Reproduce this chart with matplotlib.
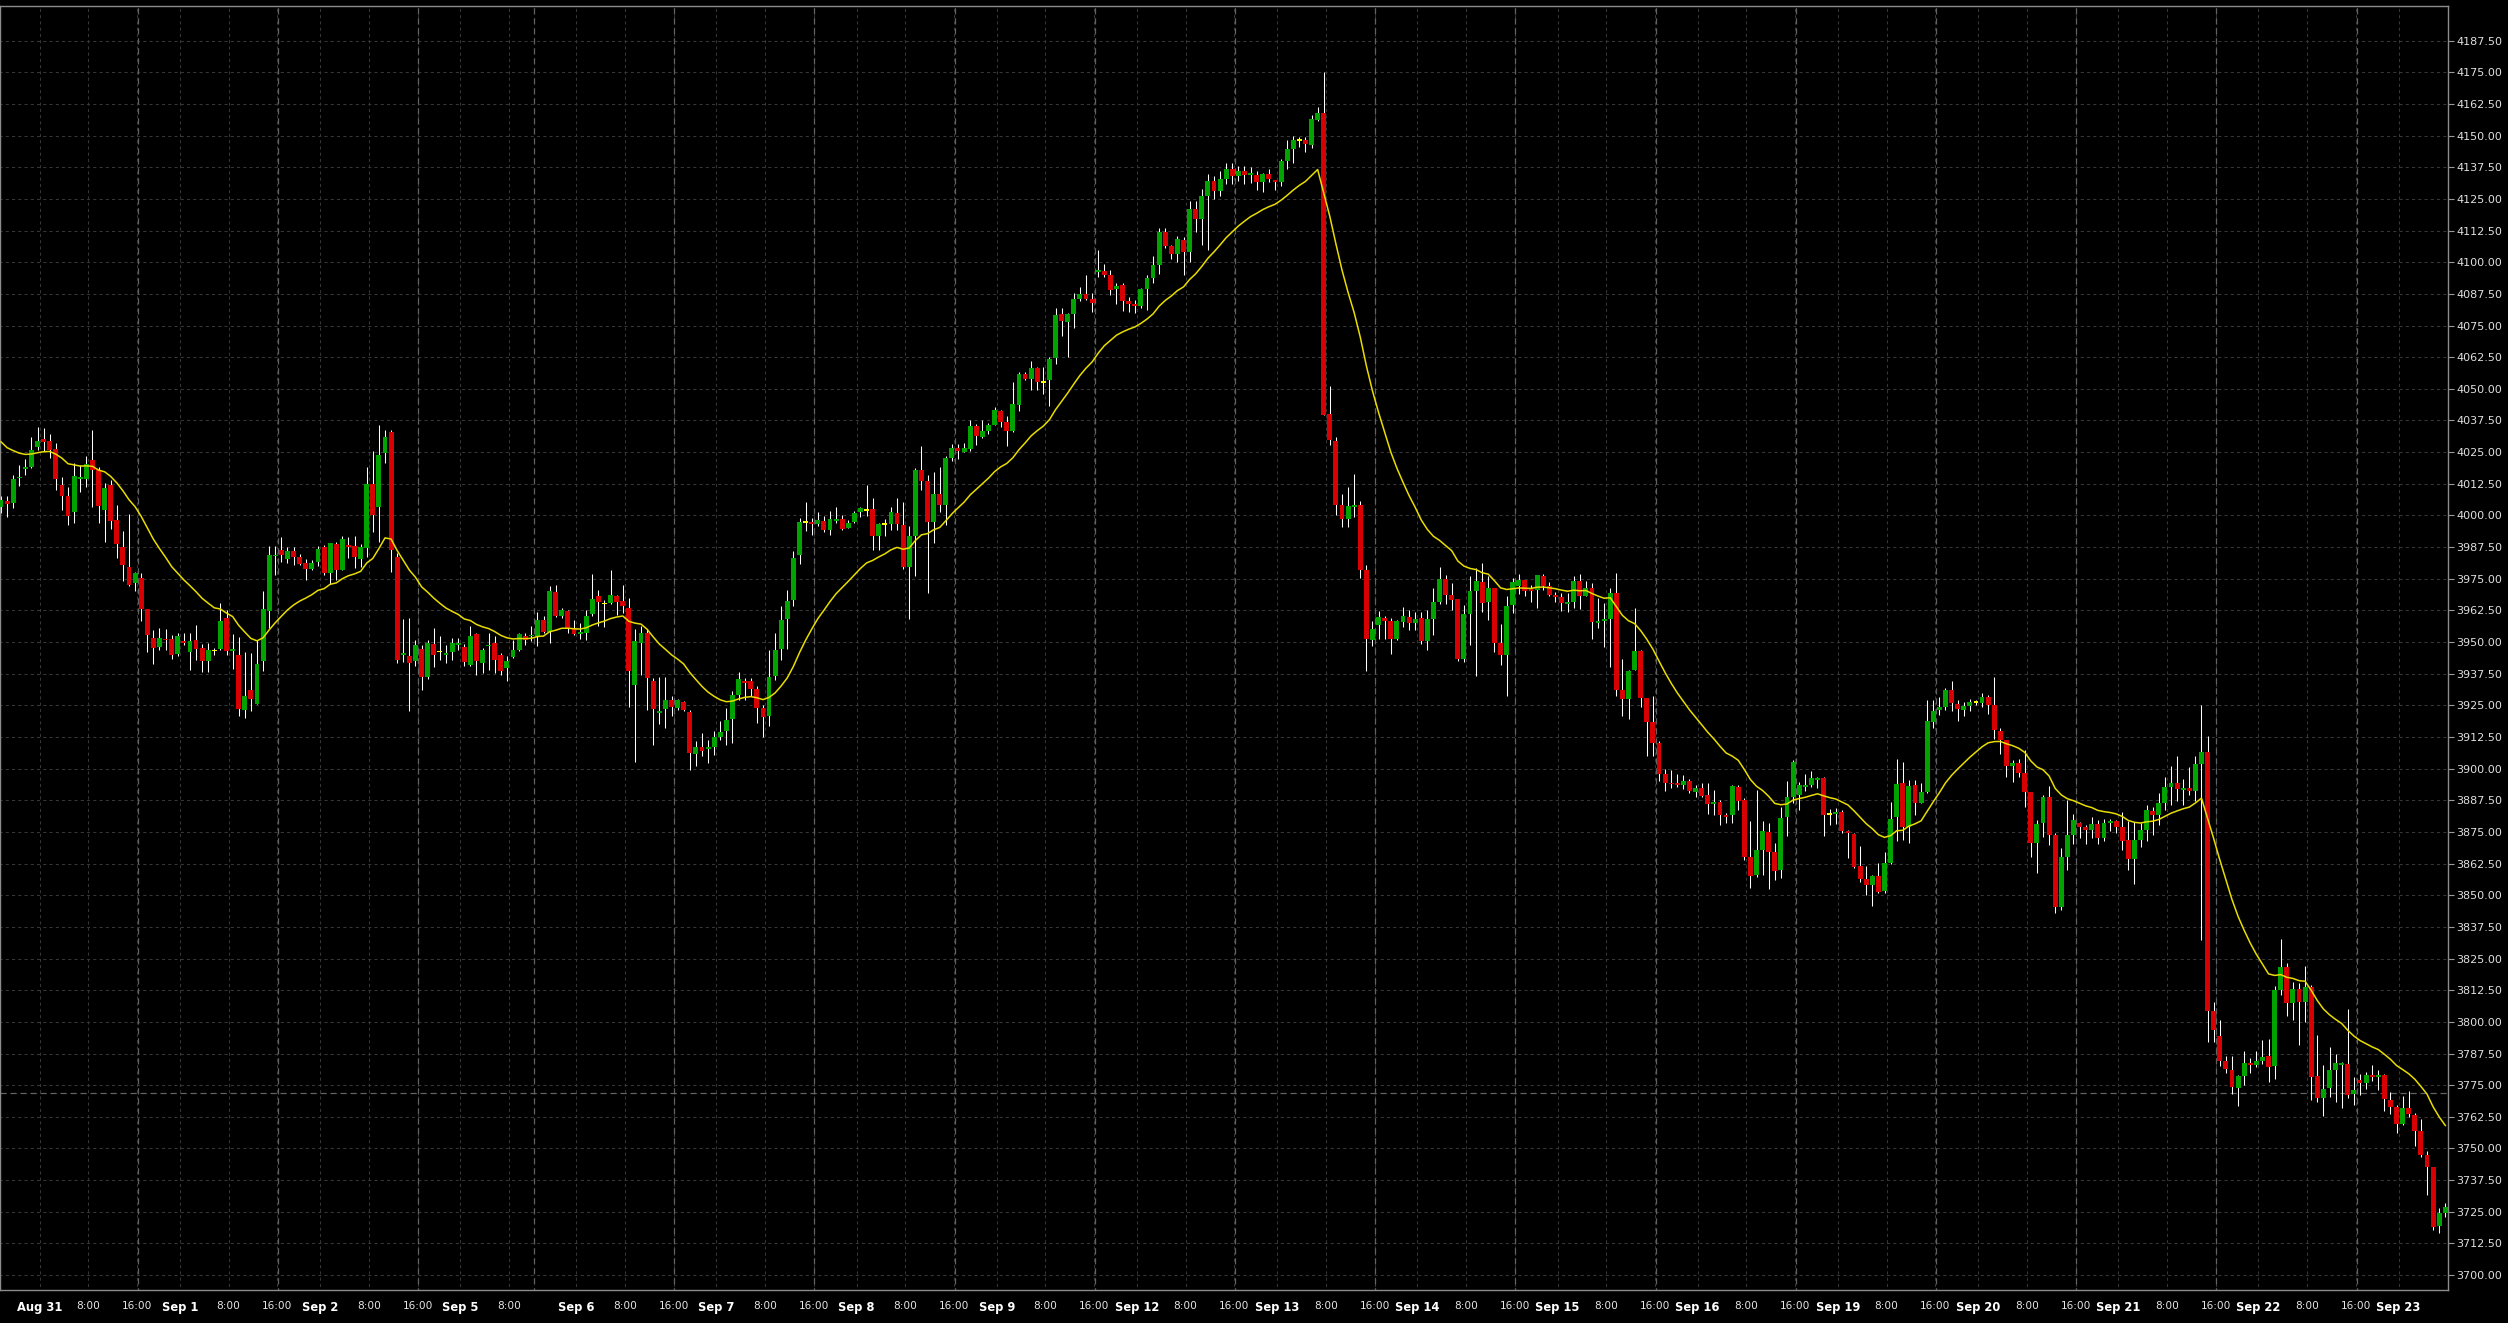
import numpy as np
import pandas as pd
import matplotlib
matplotlib.use("Agg")
import matplotlib.pyplot as plt
from datetime import date

# hourly OHLC bars
opens = [
    4003.2, 4005.8, 4005.1, 4014.6, 4018.2, 4019.3, 4027.2, 4030.3, 4029.5, 4026.3,
    4012.1, 4007.8, 4001.2, 4014.2, 4014.2, 4022.0, 4017.8, 4002.0, 4012.1, 3998.3,
    3987.6, 3979.7, 3973.3, 3975.4, 3963.2, 3951.7, 3947.9, 3951.3, 3951.3, 3945.1,
    3950.3, 3945.9, 3950.9, 3947.8, 3942.6, 3946.3, 3947.1, 3959.6, 3946.4, 3945.0,
    3923.0, 3931.2, 3925.4, 3942.4, 3962.1, 3983.8, 3986.4, 3982.9, 3986.1, 3983.6,
    3981.2, 3978.9, 3981.7, 3987.4, 3977.4, 3988.8, 3978.6, 3988.4, 3988.0, 3982.9,
    3987.0, 4012.6, 4003.2, 4024.6, 4033.0, 3983.7, 3945.0, 3944.6, 3942.4, 3947.2,
    3936.1, 3949.3, 3945.9, 3945.0, 3945.9, 3948.9, 3947.9, 3940.8, 3953.2, 3941.6,
    3948.3, 3949.6, 3944.9, 3939.6, 3943.9, 3946.7, 3952.5, 3952.2, 3952.2, 3958.8,
    3953.9, 3969.9, 3960.1, 3962.4, 3955.5, 3953.2, 3953.4, 3961.0, 3968.3, 3965.0,
    3965.3, 3968.3, 3966.1, 3963.6, 3933.2, 3949.7, 3953.4, 3934.7, 3922.0, 3923.6,
    3927.2, 3924.1, 3926.4, 3922.5, 3905.7, 3908.7, 3907.9, 3908.7, 3912.6, 3915.0,
    3919.7, 3929.2, 3934.6, 3934.7, 3931.6, 3924.1, 3920.7, 3936.7, 3947.2, 3959.2,
    3966.7, 3984.5, 3997.1, 3997.4, 3996.8, 3997.8, 3994.1, 3998.0, 3998.7, 3995.2,
    3997.5, 4001.4, 4001.8, 4002.5, 3991.7, 3996.4, 3996.7, 4000.9, 3996.2, 3979.5,
    3992.0, 4018.0, 4013.7, 3997.5, 4008.5, 4004.2, 4022.8, 4026.7, 4025.1, 4026.4,
    4035.4, 4030.8, 4033.5, 4035.9, 4041.3, 4037.1, 4033.4, 4043.8, 4055.9, 4053.9,
    4058.3, 4052.5, 4053.3, 4062.2, 4079.5, 4076.4, 4079.6, 4085.5, 4087.5, 4085.5,
    4096.3, 4096.4, 4095.1, 4089.6, 4090.9, 4084.7, 4083.7, 4082.9, 4089.5, 4093.8,
    4098.9, 4111.8, 4106.4, 4103.4, 4108.8, 4104.1, 4121.0, 4117.0, 4126.0, 4132.0,
    4128.0, 4133.0, 4137.0, 4134.0, 4136.0, 4134.4, 4134.3, 4131.8, 4134.9, 4132.5,
    4131.8, 4140.1, 4144.9, 4148.0, 4148.3, 4146.3, 4156.2, 4158.9, 4040.1, 4029.4,
    4004.0, 3998.6, 4003.5, 4004.0, 3978.5, 3951.0, 3956.8, 3959.4, 3958.4, 3951.3,
    3958.0, 3959.9, 3957.7, 3959.4, 3950.6, 3959.3, 3966.0, 3974.9, 3968.6, 3967.0,
    3943.4, 3961.1, 3970.2, 3973.8, 3965.9, 3971.5, 3949.8, 3944.9, 3964.7, 3972.2,
    3974.5, 3971.0, 3970.6, 3976.1, 3972.2, 3968.6, 3967.6, 3965.2, 3965.9, 3974.2,
    3968.2, 3971.3, 3957.7, 3958.5, 3959.2, 3969.3, 3930.9, 3927.4, 3938.8, 3946.5,
    3928.1, 3918.6, 3910.3, 3898.0, 3894.2, 3894.2, 3893.6, 3895.1, 3890.9, 3892.5,
    3889.6, 3886.1, 3887.0, 3881.6, 3881.5, 3892.8, 3887.6, 3865.3, 3858.0, 3867.9,
    3875.0, 3867.1, 3860.0, 3880.8, 3889.0, 3889.6, 3892.9, 3893.6, 3895.7, 3896.3,
    3881.7, 3882.1, 3882.9, 3875.4, 3874.1, 3861.6, 3856.5, 3854.1, 3857.6, 3851.8,
    3862.9, 3880.8, 3894.2, 3877.1, 3893.6, 3886.6, 3890.8, 3918.6, 3923.2, 3924.5,
    3931.1, 3925.5, 3923.2, 3924.7, 3926.1, 3926.1, 3928.2, 3925.1, 3914.9, 3911.3,
    3901.1, 3902.1, 3898.2, 3890.9, 3870.8, 3878.7, 3888.9, 3873.8, 3845.5, 3865.3,
    3873.9, 3878.5, 3876.8, 3875.6, 3878.2, 3872.8, 3878.7, 3879.4, 3877.1, 3871.9,
    3864.4, 3871.9, 3875.8, 3883.3, 3881.5, 3886.6, 3892.9, 3894.3, 3891.6, 3892.4,
    3891.0, 3901.9, 3906.6, 3804.1, 3794.3, 3784.4, 3781.1, 3773.7, 3778.5, 3783.9,
    3783.0, 3784.6, 3786.6, 3782.4, 3812.4, 3821.6, 3807.6, 3812.9, 3808.0, 3813.7,
    3778.7, 3770.1, 3773.7, 3781.1, 3783.1, 3783.4, 3771.4, 3777.1, 3775.8, 3779.1,
    3778.3, 3779.1, 3769.2, 3766.2, 3759.5, 3766.0, 3763.1, 3757.0, 3747.5, 3742.5,
    3719.2, 3724.5,
]
highs = [
    4007.5, 4007.5, 4016.1, 4020.0, 4022.2, 4030.8, 4034.9, 4034.5, 4032.2, 4028.8,
    4015.3, 4011.4, 4020.7, 4020.0, 4023.6, 4033.8, 4019.3, 4012.8, 4014.1, 4004.2,
    3994.0, 4000.7, 3977.8, 3977.1, 3963.2, 3954.9, 3955.4, 3955.1, 3952.6, 3953.6,
    3953.6, 3953.7, 3956.7, 3949.2, 3949.6, 3947.6, 3965.5, 3962.8, 3953.2, 3952.0,
    3946.2, 3945.7, 3950.7, 3970.3, 3987.8, 3987.8, 3991.3, 3987.4, 3987.4, 3984.9,
    3982.8, 3982.4, 3987.8, 3988.2, 3989.1, 3989.7, 3992.0, 3991.4, 3992.0, 3988.7,
    4019.3, 4025.5, 4035.8, 4033.6, 4033.8, 3985.1, 3959.1, 3959.5, 3950.7, 3948.8,
    3950.9, 3955.5, 3952.2, 3949.0, 3951.6, 3951.6, 3949.3, 3956.2, 3953.6, 3947.6,
    3953.6, 3952.2, 3945.7, 3944.3, 3950.7, 3953.6, 3953.6, 3956.2, 3962.0, 3960.1,
    3972.2, 3972.6, 3963.4, 3962.8, 3958.8, 3957.5, 3962.8, 3977.0, 3970.7, 3966.7,
    3978.6, 3968.7, 3972.4, 3967.5, 3955.1, 3956.2, 3955.1, 3935.8, 3936.0, 3936.2,
    3928.6, 3927.5, 3926.6, 3923.0, 3910.8, 3914.1, 3911.4, 3914.7, 3918.9, 3923.9,
    3930.5, 3938.1, 3935.8, 3935.8, 3932.5, 3925.3, 3947.0, 3953.6, 3964.1, 3970.7,
    3985.8, 3998.8, 4005.4, 3998.9, 4001.4, 3999.6, 4001.6, 4003.5, 4000.3, 3998.3,
    4001.6, 4003.5, 4012.1, 4006.8, 3997.2, 3998.5, 4003.5, 4006.9, 4005.5, 3995.9,
    4018.7, 4027.5, 4015.9, 4017.2, 4019.1, 4023.3, 4028.3, 4028.2, 4028.5, 4037.8,
    4036.2, 4037.8, 4036.4, 4043.0, 4041.7, 4039.3, 4052.6, 4056.8, 4056.8, 4061.0,
    4058.8, 4058.8, 4062.5, 4081.8, 4081.8, 4080.1, 4087.8, 4090.4, 4095.0, 4087.8,
    4104.9, 4099.3, 4096.9, 4091.7, 4091.7, 4086.4, 4084.9, 4089.7, 4095.1, 4102.5,
    4113.5, 4113.5, 4107.0, 4110.4, 4110.1, 4124.0, 4124.0, 4129.0, 4135.0, 4134.0,
    4136.0, 4139.0, 4139.0, 4138.0, 4138.0, 4137.7, 4136.1, 4135.1, 4136.8, 4132.5,
    4140.9, 4148.3, 4149.9, 4149.3, 4149.3, 4158.1, 4161.2, 4175.0, 4051.2, 4031.1,
    4008.5, 4011.1, 4016.4, 4005.7, 3980.5, 3958.4, 3962.3, 3960.1, 3959.4, 3958.8,
    3963.8, 3962.6, 3961.8, 3961.8, 3962.7, 3971.5, 3979.5, 3976.5, 3973.5, 3967.0,
    3964.7, 3975.9, 3979.2, 3981.3, 3975.9, 3971.5, 3957.2, 3968.2, 3975.2, 3976.9,
    3974.5, 3972.6, 3976.5, 3976.9, 3973.9, 3969.9, 3969.3, 3969.5, 3975.9, 3976.9,
    3974.2, 3973.2, 3967.3, 3965.6, 3971.3, 3977.4, 3943.2, 3939.0, 3963.4, 3946.9,
    3928.1, 3928.5, 3911.0, 3900.0, 3899.5, 3897.9, 3897.5, 3895.8, 3893.4, 3894.2,
    3894.2, 3891.6, 3887.6, 3882.4, 3893.6, 3893.6, 3888.3, 3879.3, 3891.6, 3879.3,
    3878.4, 3870.5, 3885.0, 3895.3, 3903.4, 3894.9, 3897.8, 3899.1, 3896.8, 3896.8,
    3883.9, 3884.4, 3883.7, 3875.7, 3874.5, 3869.5, 3861.6, 3858.0, 3862.9, 3867.1,
    3887.0, 3903.8, 3902.8, 3895.5, 3895.5, 3894.5, 3927.1, 3927.1, 3928.4, 3931.7,
    3934.6, 3927.1, 3926.5, 3927.4, 3927.1, 3929.7, 3928.9, 3936.3, 3916.2, 3911.3,
    3903.4, 3903.7, 3907.4, 3890.9, 3879.7, 3889.6, 3893.2, 3874.7, 3868.6, 3887.7,
    3882.2, 3879.1, 3877.8, 3881.1, 3879.8, 3880.2, 3880.0, 3879.8, 3882.8, 3879.4,
    3879.1, 3878.5, 3885.7, 3885.0, 3890.3, 3896.6, 3901.1, 3905.0, 3895.8, 3900.6,
    3905.0, 3925.2, 3912.7, 3807.7, 3800.8, 3786.6, 3786.4, 3779.1, 3788.3, 3785.6,
    3788.5, 3792.9, 3793.3, 3814.2, 3832.7, 3823.1, 3815.6, 3815.5, 3822.1, 3814.6,
    3794.9, 3783.0, 3789.9, 3787.2, 3784.3, 3805.1, 3778.4, 3779.5, 3780.0, 3783.0,
    3781.0, 3779.5, 3772.4, 3767.2, 3770.8, 3772.6, 3764.2, 3761.7, 3749.1, 3742.5,
    3726.4, 3728.4,
]
lows = [
    4000.9, 3999.4, 4002.9, 4011.7, 4016.1, 4018.7, 4025.9, 4025.3, 4022.6, 4009.9,
    4002.2, 3996.1, 3997.0, 4009.1, 4011.4, 4003.2, 3997.0, 3989.7, 3994.6, 3983.2,
    3974.0, 3972.2, 3970.0, 3958.2, 3946.1, 3941.2, 3947.0, 3947.0, 3943.2, 3944.3,
    3948.9, 3938.8, 3943.0, 3938.0, 3938.0, 3945.0, 3947.0, 3945.0, 3939.3, 3920.7,
    3920.0, 3922.6, 3925.4, 3938.4, 3955.5, 3976.6, 3981.8, 3981.4, 3980.5, 3980.4,
    3974.7, 3978.3, 3980.1, 3976.3, 3973.0, 3974.6, 3978.3, 3983.3, 3979.2, 3979.5,
    3983.6, 3993.4, 3989.7, 4020.9, 3977.5, 3941.7, 3942.0, 3922.6, 3940.4, 3930.9,
    3935.4, 3940.0, 3943.0, 3941.7, 3942.8, 3947.0, 3940.7, 3940.4, 3937.1, 3937.8,
    3939.1, 3937.8, 3937.1, 3934.5, 3943.7, 3946.3, 3948.7, 3950.4, 3948.3, 3953.6,
    3949.5, 3959.9, 3959.5, 3953.6, 3952.9, 3951.4, 3950.7, 3960.1, 3956.2, 3955.9,
    3965.0, 3960.8, 3961.4, 3924.3, 3902.5, 3937.1, 3923.3, 3909.5, 3917.8, 3916.1,
    3920.7, 3923.3, 3922.9, 3899.6, 3900.9, 3904.9, 3902.2, 3905.5, 3911.4, 3909.2,
    3910.1, 3927.2, 3927.2, 3928.6, 3917.9, 3912.4, 3916.7, 3935.1, 3942.8, 3947.2,
    3964.3, 3981.0, 3993.7, 3992.4, 3995.9, 3993.3, 3992.1, 3996.9, 3994.1, 3995.0,
    3997.2, 3999.3, 3999.6, 3986.2, 3986.2, 3992.0, 3994.1, 3994.1, 3978.8, 3959.3,
    3975.9, 4009.9, 3969.3, 3989.3, 4001.4, 3996.3, 4021.7, 4022.2, 4025.1, 4025.4,
    4028.0, 4030.5, 4032.1, 4035.6, 4035.1, 4027.5, 4033.0, 4041.3, 4053.3, 4049.6,
    4049.6, 4048.0, 4043.3, 4059.9, 4070.9, 4062.6, 4074.1, 4084.5, 4084.9, 4080.4,
    4094.3, 4094.3, 4087.1, 4083.5, 4080.8, 4080.5, 4080.1, 4082.1, 4081.2, 4091.7,
    4095.4, 4105.6, 4101.3, 4100.1, 4095.0, 4099.9, 4112.0, 4107.0, 4104.9, 4125.0,
    4126.0, 4131.0, 4131.0, 4132.0, 4131.0, 4131.4, 4128.5, 4127.9, 4131.8, 4128.5,
    4130.1, 4137.0, 4139.1, 4145.4, 4143.4, 4145.2, 4155.8, 4039.7, 4027.9, 4000.0,
    3995.6, 3995.6, 3999.2, 3975.2, 3938.4, 3948.5, 3951.1, 3951.3, 3945.3, 3950.9,
    3956.1, 3954.8, 3954.8, 3949.3, 3946.7, 3952.6, 3965.1, 3965.1, 3962.7, 3942.6,
    3942.3, 3948.9, 3936.4, 3961.7, 3958.8, 3945.9, 3941.0, 3928.8, 3961.4, 3969.0,
    3968.2, 3965.9, 3963.4, 3970.6, 3968.0, 3966.0, 3962.4, 3962.0, 3963.4, 3963.0,
    3968.0, 3951.3, 3955.5, 3948.2, 3940.3, 3928.5, 3920.6, 3919.5, 3938.8, 3924.5,
    3904.8, 3905.1, 3895.0, 3891.0, 3892.2, 3892.9, 3891.8, 3890.5, 3889.0, 3888.7,
    3882.0, 3881.7, 3877.8, 3878.4, 3878.4, 3883.7, 3864.0, 3853.0, 3857.1, 3858.0,
    3852.6, 3856.1, 3856.7, 3873.4, 3886.3, 3883.7, 3891.2, 3892.9, 3892.2, 3873.4,
    3877.8, 3878.2, 3874.7, 3864.6, 3860.7, 3855.4, 3850.1, 3845.8, 3850.8, 3850.8,
    3862.4, 3871.6, 3871.8, 3870.5, 3881.7, 3886.6, 3890.3, 3916.2, 3921.2, 3923.2,
    3922.9, 3918.9, 3920.8, 3922.9, 3925.1, 3924.5, 3921.6, 3911.7, 3905.8, 3896.8,
    3894.9, 3896.8, 3885.0, 3865.3, 3858.7, 3873.2, 3869.9, 3842.9, 3844.2, 3860.0,
    3870.3, 3872.5, 3870.2, 3872.8, 3870.3, 3871.6, 3875.2, 3874.5, 3867.9, 3860.0,
    3854.5, 3868.9, 3871.5, 3873.6, 3877.8, 3883.7, 3885.7, 3887.4, 3885.7, 3889.6,
    3887.4, 3832.4, 3791.9, 3791.9, 3782.4, 3779.8, 3771.5, 3766.6, 3774.9, 3779.7,
    3782.0, 3783.4, 3776.4, 3777.4, 3810.6, 3802.5, 3800.8, 3790.9, 3800.1, 3769.2,
    3768.5, 3763.0, 3770.5, 3768.5, 3765.8, 3770.1, 3767.2, 3771.2, 3773.5, 3776.8,
    3773.1, 3764.6, 3763.7, 3756.3, 3759.1, 3762.4, 3750.8, 3746.8, 3731.7, 3717.6,
    3716.6, 3722.9,
]
closes = [
    4006.2, 4004.7, 4014.5, 4015.3, 4019.2, 4025.9, 4029.5, 4029.2, 4025.9, 4014.2,
    4007.5, 3999.6, 4015.7, 4015.0, 4020.4, 4017.8, 4003.6, 4010.9, 3998.0, 3988.6,
    3980.3, 3972.4, 3977.4, 3963.2, 3952.8, 3947.5, 3951.7, 3950.7, 3944.7, 3952.5,
    3949.5, 3950.5, 3947.2, 3942.5, 3947.0, 3946.3, 3958.4, 3946.3, 3947.1, 3923.4,
    3928.8, 3927.6, 3941.5, 3963.2, 3984.5, 3984.5, 3984.5, 3986.1, 3983.4, 3980.7,
    3978.9, 3981.4, 3986.6, 3977.4, 3989.1, 3978.6, 3990.8, 3987.6, 3983.6, 3987.4,
    4012.6, 4000.3, 4024.0, 4031.1, 3986.2, 3942.8, 3945.7, 3941.6, 3948.8, 3936.1,
    3949.6, 3945.0, 3945.9, 3945.7, 3949.6, 3949.6, 3942.0, 3952.5, 3942.4, 3947.0,
    3948.8, 3942.8, 3938.4, 3942.6, 3946.9, 3953.2, 3950.7, 3952.8, 3958.8, 3954.1,
    3970.3, 3960.4, 3962.8, 3955.5, 3953.3, 3954.0, 3960.4, 3967.1, 3965.7, 3965.0,
    3968.7, 3965.7, 3964.1, 3938.4, 3950.5, 3953.4, 3935.7, 3923.4, 3922.5, 3927.2,
    3924.3, 3927.2, 3923.0, 3906.1, 3908.7, 3906.8, 3908.7, 3912.6, 3914.3, 3919.3,
    3929.2, 3935.5, 3934.0, 3931.3, 3923.8, 3920.3, 3936.3, 3947.0, 3958.8, 3966.3,
    3983.3, 3997.5, 3997.1, 3996.8, 3998.3, 3994.1, 3998.7, 3998.7, 3994.8, 3997.1,
    4001.0, 4003.1, 4001.8, 3991.7, 3996.7, 3996.4, 4001.4, 3996.7, 3979.5, 3992.0,
    4018.0, 4013.7, 3997.5, 4008.5, 4004.2, 4022.8, 4026.7, 4025.4, 4026.7, 4035.4,
    4031.2, 4033.4, 4035.8, 4041.7, 4037.1, 4033.4, 4044.2, 4056.0, 4053.9, 4058.3,
    4052.9, 4052.5, 4061.8, 4079.2, 4076.6, 4079.6, 4085.5, 4087.5, 4085.5, 4083.9,
    4097.0, 4095.1, 4089.1, 4090.6, 4084.7, 4083.7, 4082.9, 4089.3, 4093.8, 4098.9,
    4111.8, 4106.4, 4103.4, 4109.1, 4104.1, 4121.0, 4117.0, 4126.0, 4132.0, 4128.0,
    4133.0, 4137.0, 4134.0, 4136.0, 4134.4, 4135.1, 4131.8, 4134.7, 4132.7, 4131.8,
    4140.0, 4144.7, 4148.3, 4148.0, 4146.7, 4156.6, 4158.9, 4039.7, 4029.6, 4004.2,
    3998.6, 4003.8, 4004.2, 3978.5, 3951.3, 3955.2, 3959.8, 3958.4, 3951.3, 3958.4,
    3960.3, 3957.7, 3959.1, 3950.6, 3959.1, 3965.9, 3974.9, 3968.6, 3966.7, 3943.4,
    3961.1, 3970.2, 3974.2, 3965.6, 3971.5, 3949.8, 3944.7, 3964.4, 3973.8, 3974.5,
    3970.2, 3970.2, 3976.5, 3972.2, 3968.6, 3967.6, 3965.3, 3966.0, 3974.2, 3968.2,
    3971.3, 3958.1, 3958.4, 3959.2, 3969.3, 3930.9, 3927.4, 3938.4, 3946.5, 3928.1,
    3918.6, 3910.3, 3898.0, 3894.5, 3893.8, 3893.7, 3895.1, 3891.2, 3892.5, 3889.3,
    3886.1, 3887.0, 3881.5, 3880.8, 3893.2, 3887.4, 3865.3, 3857.8, 3867.9, 3875.4,
    3867.2, 3859.7, 3880.7, 3889.0, 3902.5, 3893.6, 3893.6, 3896.2, 3896.3, 3881.7,
    3881.7, 3882.9, 3875.4, 3874.7, 3861.3, 3856.5, 3854.1, 3857.6, 3851.4, 3862.9,
    3880.1, 3894.0, 3877.1, 3893.2, 3886.6, 3890.8, 3918.8, 3922.9, 3924.3, 3931.1,
    3925.8, 3923.4, 3924.7, 3926.5, 3926.1, 3928.2, 3925.1, 3915.3, 3911.3, 3901.1,
    3902.1, 3898.4, 3890.9, 3870.8, 3878.2, 3888.9, 3873.8, 3845.5, 3865.3, 3873.9,
    3879.8, 3876.8, 3875.6, 3878.2, 3872.8, 3878.5, 3879.4, 3876.9, 3871.6, 3864.4,
    3871.9, 3875.8, 3883.7, 3881.5, 3886.4, 3892.7, 3894.3, 3891.9, 3892.3, 3891.0,
    3901.9, 3906.6, 3804.1, 3796.9, 3784.4, 3781.4, 3774.1, 3778.5, 3783.7, 3783.1,
    3784.6, 3786.3, 3782.0, 3812.6, 3821.6, 3807.6, 3812.9, 3808.0, 3813.7, 3778.4,
    3770.1, 3773.4, 3781.1, 3783.7, 3783.8, 3771.2, 3773.0, 3775.8, 3779.1, 3778.3,
    3779.1, 3769.5, 3766.3, 3759.5, 3766.0, 3763.8, 3756.7, 3747.5, 3742.5, 3718.9,
    3724.5, 3727.0,
]

ma_seed = 4031.5      # average value just before the first visible bar
ma_span = 20
ref_level = 3772.0    # dashed horizontal level line

# session hours per calendar day (CME-style, break 17:00)
FULL_DAY = list(range(0, 17)) + list(range(18, 24))
sessions = [
    (date(2022, 8, 30), list(range(18, 24))),
    (date(2022, 8, 31), FULL_DAY),
    (date(2022, 9, 1), FULL_DAY),
    (date(2022, 9, 2), list(range(0, 17))),
    (date(2022, 9, 4), list(range(18, 24))),
    (date(2022, 9, 5), list(range(0, 13)) + list(range(18, 24))),
    (date(2022, 9, 6), FULL_DAY),
    (date(2022, 9, 7), FULL_DAY),
    (date(2022, 9, 8), FULL_DAY),
    (date(2022, 9, 9), list(range(0, 17))),
    (date(2022, 9, 11), list(range(18, 24))),
    (date(2022, 9, 12), FULL_DAY),
    (date(2022, 9, 13), FULL_DAY),
    (date(2022, 9, 14), FULL_DAY),
    (date(2022, 9, 15), FULL_DAY),
    (date(2022, 9, 16), list(range(0, 17))),
    (date(2022, 9, 18), list(range(18, 24))),
    (date(2022, 9, 19), FULL_DAY),
    (date(2022, 9, 20), FULL_DAY),
    (date(2022, 9, 21), FULL_DAY),
    (date(2022, 9, 22), FULL_DAY),
    (date(2022, 9, 23), list(range(0, 9))),
]

bar_day = []
bar_hour = []
for d, hrs in sessions:
    for h in hrs:
        bar_day.append(d)
        bar_hour.append(h)

o = np.array(opens)
h = np.array(highs)
l = np.array(lows)
c = np.array(closes)
n = len(c)
x = np.arange(n)

ma = pd.Series([ma_seed] + closes).ewm(span=ma_span, adjust=False).mean().values[1:]

BG = "#000000"
UP = "#00a300"
DOWN = "#d80000"
DOJI = "#ffff00"
GRID = "#363636"
SEP = "#626262"

fig = plt.figure(figsize=(25.08, 13.23), dpi=100, facecolor=BG)
ax = fig.add_axes([0.0, 33 / 1323, 2448 / 2508, 1284 / 1323])
ax.set_facecolor(BG)

# ticks / grid positions (the last couple of bars get no label)
shift = 0.35
tick_pos, tick_lab, tick_bold = [], [], []
for i in range(n - 2):
    hr = bar_hour[i]
    if hr == 0:
        d = bar_day[i]
        tick_pos.append(i + shift)
        tick_lab.append(f"{d:%b} {d.day}")
        tick_bold.append(True)
    elif hr in (8, 16):
        tick_pos.append(i + shift)
        tick_lab.append(f"{hr}:00")
        tick_bold.append(False)

seps = [i + 0.45 for i in range(n - 1) if bar_hour[i + 1] != (bar_hour[i] + 1) % 24]

yticks = np.arange(3700, 4188, 12.5)
ax.hlines(yticks, -1, n + 1, colors=GRID, linewidth=0.75, linestyles=(0, (3, 3)), zorder=0)
ax.vlines(tick_pos, 3600, 4300, colors=GRID, linewidth=0.75, linestyles=(0, (3, 3)), zorder=0)
ax.vlines(seps, 3600, 4300, colors=SEP, linewidth=0.9, linestyles=(0, (5, 3)), zorder=0.5)
ax.axhline(ref_level, color=SEP, linewidth=0.9, linestyle=(0, (5, 3)), zorder=0.5)

# candles
ax.vlines(x, l, h, colors="white", linewidth=0.75, zorder=2)
body_col = np.where(c > o, UP, np.where(c < o, DOWN, DOJI))
body_bot = np.minimum(o, c)
body_h = np.maximum(np.abs(c - o), 0.6)
ax.bar(x, body_h, bottom=body_bot, width=0.8, color=body_col, linewidth=0, zorder=3)

ax.plot(x, ma, color="#e8dc00", linewidth=1.1, zorder=4)

ax.set_xlim(-0.164, 401.44)
ax.set_ylim(3694.1, 4201.2)

ax.yaxis.tick_right()
ax.set_yticks(yticks)
ax.set_yticklabels([f"{v:.2f}" for v in yticks])
ax.tick_params(axis="y", colors="#9a9a9a", labelcolor="#e0e0e0", length=4, width=0.8,
               labelsize=8, pad=2)

ax.set_xticks(tick_pos)
ax.set_xticklabels(tick_lab)
ax.tick_params(axis="x", length=0, pad=8, labelcolor="white")
for lab, bold in zip(ax.get_xticklabels(), tick_bold):
    lab.set_family("DejaVu Sans")
    if bold:
        lab.set_fontweight("bold")
        lab.set_fontsize(8.3)
    else:
        lab.set_fontsize(7.6)
        lab.set_color("#e6e6e6")

for s in ax.spines.values():
    s.set_color("#8c8c8c")
    s.set_linewidth(1.0)

fig.savefig("out.png", dpi=100, facecolor=BG)
